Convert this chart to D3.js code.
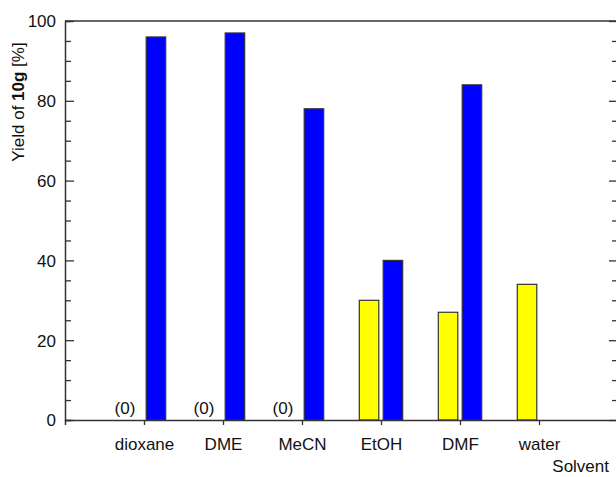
<!DOCTYPE html>
<html>
<head>
  <meta charset="utf-8">
  <title>Yield of 10g by solvent</title>
  <style>
    body { margin: 0; background: #fff; }
    svg { display: block; font-family: "Liberation Sans", Arial, sans-serif; }
    .axis path, .axis line { stroke: #333; }
    .axis text { font-size: 17px; fill: #111; }
  </style>
  <script src="https://d3js.org/d3.v7.min.js"></script>
</head>
<body>
<script>
// data
var solvents = ["dioxane", "DME", "MeCN", "EtOH", "DMF", "water"];
var yellowVals = [0, 0, 0, 30, 27, 34];
var blueVals = [96, 97, 78, 40, 84, null];
var yTicks = [0, 20, 40, 60, 80, 100];

var W = 616, H = 477;
var margin = {top: 21, right: -2, bottom: 57, left: 65};
var width = W - margin.left - margin.right;
var height = H - margin.top - margin.bottom;

var svg = d3.select("body").append("svg")
  .attr("width", W)
  .attr("height", H);

var chart = svg.append("g")
  .attr("transform", "translate(" + margin.left + "," + margin.top + ")");

// categories sit at 1..6 on a 0..7 axis
var x = d3.scaleLinear().domain([0, 7]).range([0, width]);
var y = d3.scaleLinear().domain([0, 100]).range([height, 0]);

var barW = 19.5, gap = 2.2;

// frame
chart.append("line")
  .attr("x1", 0).attr("x2", width).attr("y1", 0).attr("y2", 0)
  .attr("stroke", "#333").attr("stroke-width", 1.5);

// bars
chart.selectAll("rect.yellow")
  .data(solvents.map(function(s, i) { return {i: i, v: yellowVals[i]}; })
    .filter(function(d) { return d.v > 0; }))
  .enter().append("rect")
    .attr("class", "yellow")
    .attr("x", function(d) { return x(d.i + 1) - gap - barW; })
    .attr("y", function(d) { return y(d.v); })
    .attr("width", barW)
    .attr("height", function(d) { return y(0) - y(d.v); })
    .attr("fill", "#ffff00")
    .attr("stroke", "#333")
    .attr("stroke-width", 1.2);

chart.selectAll("rect.blue")
  .data(solvents.map(function(s, i) { return {i: i, v: blueVals[i]}; })
    .filter(function(d) { return d.v != null; }))
  .enter().append("rect")
    .attr("class", "blue")
    .attr("x", function(d) { return x(d.i + 1) + gap; })
    .attr("y", function(d) { return y(d.v); })
    .attr("width", barW)
    .attr("height", function(d) { return y(0) - y(d.v); })
    .attr("fill", "#0000ff")
    .attr("stroke", "#333")
    .attr("stroke-width", 1.2);

// "(0)" markers where the yellow bar is zero
chart.selectAll("text.zero")
  .data(solvents.map(function(s, i) { return {i: i, v: yellowVals[i]}; })
    .filter(function(d) { return d.v === 0; }))
  .enter().append("text")
    .attr("class", "zero")
    .attr("x", function(d) { return x(d.i + 1) - 19; })
    .attr("y", y(0) - 6)
    .attr("text-anchor", "middle")
    .style("font-size", "17px")
    .attr("fill", "#111")
    .text("(0)");

// left axis, ticks inward
var yLeft = chart.append("g").attr("class", "axis")
  .call(d3.axisRight(y).tickValues(d3.range(0, 101, 5)).tickSize(6).tickFormat(""));
yLeft.selectAll(".tick line")
  .attr("x2", function(d) { return d % 20 === 0 ? 9 : 6; })
  .attr("stroke-width", 1.3);
yLeft.select(".domain").attr("stroke-width", 1.5);
yLeft.selectAll(".tick")
  .filter(function(d) { return yTicks.indexOf(d) >= 0; })
  .append("text")
    .attr("x", -9).attr("dy", "0.35em")
    .attr("text-anchor", "end")
    .text(function(d) { return d; });

// right axis, ticks inward
var yRight = chart.append("g").attr("class", "axis")
  .attr("transform", "translate(" + width + ",0)")
  .call(d3.axisLeft(y).tickValues(d3.range(0, 101, 5)).tickSize(6).tickFormat(""));
yRight.selectAll(".tick line")
  .attr("x2", function(d) { return d % 20 === 0 ? -9 : -6; })
  .attr("stroke-width", 1.3);

// bottom axis
var xAxis = chart.append("g").attr("class", "axis")
  .attr("transform", "translate(0," + height + ")")
  .call(d3.axisBottom(x).tickValues(d3.range(1, solvents.length + 1))
    .tickSize(5).tickPadding(13)
    .tickFormat(function(d) { return solvents[d - 1]; }));
xAxis.select(".domain").attr("stroke-width", 1.5);
xAxis.selectAll(".tick line").attr("stroke-width", 1.3);

// axis titles
chart.append("text")
  .attr("x", width - 9)
  .attr("y", height + 52)
  .attr("text-anchor", "end")
  .style("font-size", "17px")
  .attr("fill", "#111")
  .text("Solvent");

var yt = svg.append("text")
  .attr("transform", "translate(24,102) rotate(-90)")
  .attr("text-anchor", "middle")
  .style("font-size", "17px")
  .attr("fill", "#111");
yt.append("tspan").text("Yield of ");
yt.append("tspan").attr("font-weight", "bold").text("10g");
yt.append("tspan").text(" [%]");
</script>
</body>
</html>
